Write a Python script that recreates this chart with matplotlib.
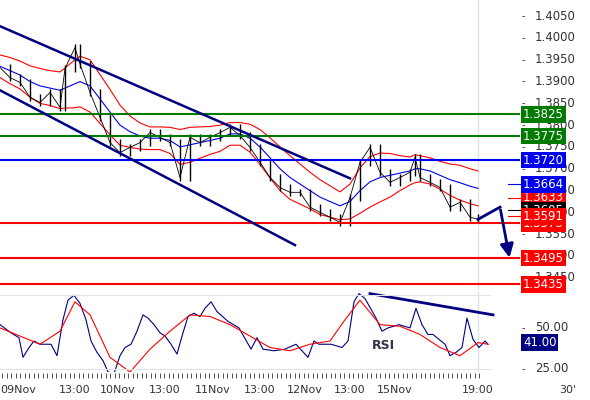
import matplotlib.pyplot as plt
import numpy as np

# price path (x in bar-pixel units, close prices)
px = [0, 10, 20, 30, 40, 50, 60, 65, 75, 80, 90, 100, 110, 120, 130, 140, 150, 160, 170, 180,
      190, 200, 210, 220, 230, 240, 250, 260, 270, 280, 290, 300, 310, 320, 330, 340, 350, 360,
      370, 380, 390, 400, 410, 415, 420, 430, 440, 450, 460, 470, 478]
close = [1.3932, 1.3909, 1.3898, 1.3864, 1.3852, 1.3875, 1.3841, 1.3930, 1.3978, 1.3940, 1.3875,
         1.3818, 1.3760, 1.3737, 1.3749, 1.3760, 1.3783, 1.3772, 1.3760, 1.3680, 1.3772, 1.3760,
         1.3772, 1.3783, 1.3795, 1.3776, 1.3749, 1.3715, 1.3680, 1.3657, 1.3646, 1.3646, 1.3612,
         1.3600, 1.3589, 1.3577, 1.3634, 1.3715, 1.3749, 1.3692, 1.3669, 1.3680, 1.3692, 1.3726,
         1.3680, 1.3669, 1.3657, 1.3612, 1.3623, 1.3589, 1.3584]
ma = [1.3935, 1.3925, 1.3915, 1.3900, 1.3890, 1.3885, 1.3880, 1.3885, 1.3895, 1.3900, 1.3890,
      1.3860, 1.3830, 1.3800, 1.3785, 1.3775, 1.3770, 1.3770, 1.3765, 1.3750, 1.3755, 1.3760,
      1.3765, 1.3770, 1.3780, 1.3780, 1.3770, 1.3750, 1.3725, 1.3700, 1.3680, 1.3665, 1.3650,
      1.3635, 1.3625, 1.3615, 1.3625, 1.3650, 1.3670, 1.3680, 1.3685, 1.3690, 1.3695, 1.3700,
      1.3700, 1.3695, 1.3685, 1.3675, 1.3668, 1.3660, 1.3655]
band = [0.0026, 0.0030, 0.0032, 0.0036, 0.0040, 0.0040, 0.0042, 0.0046, 0.0055, 0.0058, 0.0060,
        0.0056, 0.0052, 0.0046, 0.0036, 0.0030, 0.0026, 0.0026, 0.0030, 0.0040, 0.0040, 0.0036,
        0.0032, 0.0030, 0.0026, 0.0026, 0.0032, 0.0040, 0.0046, 0.0050, 0.0050, 0.0046, 0.0042,
        0.0040, 0.0036, 0.0032, 0.0040, 0.0052, 0.0058, 0.0056, 0.0050, 0.0040, 0.0032, 0.0032,
        0.0030, 0.0030, 0.0032, 0.0036, 0.0040, 0.0040, 0.0040]

levels = [1.3825, 1.3775, 1.3720, 1.3575, 1.3495, 1.3435]
level_colors = ['#007a00', '#007a00', '#0000ee', '#ff0000', '#ff0000', '#ff0000']
side_labels = [(1.3633, '#ff0000'), (1.3605, '#000000'), (1.3591, '#ff0000'), (1.3664, '#0000ee')]
price_ticks = [1.4050, 1.4000, 1.3950, 1.3900, 1.3850, 1.3800, 1.3750, 1.3700, 1.3650,
               1.3600, 1.3550, 1.3500, 1.3450]

# RSI
rsi_x = [0, 11, 19, 23, 29, 34, 40, 51, 57, 63, 68, 74, 80, 86, 91, 97, 103, 108, 114, 120, 125,
         131, 137, 143, 148, 154, 160, 165, 171, 177, 182, 188, 194, 200, 205, 211, 217, 228, 239,
         251, 257, 263, 274, 285, 296, 308, 314, 319, 331, 342, 348, 354, 359, 365, 376, 382, 388,
         399, 410, 416, 422, 428, 433, 445, 450, 456, 462, 467, 473, 479, 485, 488]
rsi = [52, 47, 44, 32, 38, 42, 40, 40, 33, 55, 67, 70, 65, 55, 42, 35, 30, 23, 22, 33, 38, 40, 48,
       58, 56, 52, 47, 45, 40, 34, 45, 57, 59, 57, 62, 66, 60, 54, 50, 37, 44, 37, 36, 37, 40, 32,
       42, 40, 40, 38, 42, 66, 71, 68, 56, 48, 50, 52, 50, 62, 52, 46, 46, 40, 33, 35, 38, 56, 43,
       38, 42, 40]
sig_x = [0, 20, 40, 60, 75, 90, 110, 130, 150, 170, 190, 210, 230, 250, 270, 290, 310, 330, 345,
         360, 380, 400, 420, 440, 460, 478, 488]
sig = [50, 45, 40, 48, 66, 58, 32, 23, 37, 48, 58, 57, 52, 45, 38, 36, 40, 42, 55, 67, 52, 51,
       46, 38, 33, 41, 40]
rsi_ticks = [50, 25]

x_ticks = [18, 75, 118, 165, 213, 260, 305, 350, 395, 478, 568]
x_labels = ['09Nov', '13:00', '10Nov', '13:00', '11Nov', '13:00', '12Nov', '13:00', '15Nov', '19:00', "30'"]

NAVY = '#000080'
fig = plt.figure(figsize=(5.9, 4), dpi=100)
ax = fig.add_axes([0, 110 / 400, 520 / 590, 290 / 400])
ax2 = fig.add_axes([0, 28 / 400, 520 / 590, 80 / 400])

for a in (ax, ax2):
    a.set_xlim(0, 520)
    for s in a.spines.values():
        s.set_visible(False)
    a.tick_params(left=False, labelleft=False, bottom=False, labelbottom=False)
    a.axvline(478, color='#dde4ea', lw=1, zorder=0)

ax.set_ylim(1.3422, 1.4087)
for y in price_ticks:
    ax.text(522, y, '-', va='center', fontsize=7, color='#333333', clip_on=False, zorder=1)
    ax.text(535, y, f'{y:.4f}', va='center', fontsize=8.5, color='#333333', clip_on=False, zorder=1)

close = np.array(close)
ma = np.array(ma)
band = np.array(band)
ax.plot(px, ma + band, color='#ff0000', lw=0.8)
ax.plot(px, ma - band, color='#ff0000', lw=0.8)
ax.plot(px, ma, color='#0000ee', lw=0.8)
# bars between consecutive closes
lo = np.minimum(close[:-1], close[1:]) - 0.0008
hi = np.maximum(close[:-1], close[1:]) + 0.0008
ax.vlines(px[1:], lo, hi, color='black', lw=1.0)
ax.plot(px, close, color='black', lw=0.6)

for lv, c in zip(levels, level_colors):
    ax.axhline(lv, color=c, lw=1.5)
    ax.text(523, lv, f'{lv:.4f}', va='center', fontsize=8.5, color='white', clip_on=False, zorder=5,
            bbox=dict(boxstyle='square,pad=0.15', fc=c, ec='none'))
for lv, c in side_labels:
    ax.plot([508, 520], [lv, lv], color=c, lw=0.8, clip_on=False)
    ax.text(523, lv, f'{lv:.4f}', va='center', fontsize=8.5, color='white', clip_on=False, zorder=5,
            bbox=dict(boxstyle='square,pad=0.15', fc=c, ec='none'))

# trend channel and forecast arrow
ax.plot([0, 350], [1.4027, 1.3678], color=NAVY, lw=1.8)
ax.plot([0, 295], [1.3880, 1.3525], color=NAVY, lw=1.8)
ax.plot([478, 500], [1.3584, 1.3612], color=NAVY, lw=2)
ax.annotate('', xy=(510, 1.3490), xytext=(500, 1.3612),
            arrowprops=dict(arrowstyle='-|>,head_width=0.4,head_length=0.8', color=NAVY, lw=2))

ax2.set_ylim(23, 72)
ax2.plot(rsi_x, rsi, color=NAVY, lw=0.8)
ax2.plot(sig_x, sig, color='#ff0000', lw=0.8)
ax2.plot([370, 493], [71, 58], color=NAVY, lw=2)
ax2.text(372, 37, 'RSI', fontsize=9, fontweight='bold', color='#333344')
for y in rsi_ticks:
    ax2.text(522, y, '-', va='center', fontsize=7, color='#333333', clip_on=False)
    ax2.text(535, y, f'{y:.2f}', va='center', fontsize=8.5, color='#333333', clip_on=False)
ax2.text(523, 41, '41.00', va='center', fontsize=8.5, color='white', clip_on=False, zorder=5,
         bbox=dict(boxstyle='square,pad=0.15', fc=NAVY, ec='none'))
ax2.axhline(25, xmax=490 / 520, color='#dde4ea', lw=0.8)
ax2.axhline(70, xmax=490 / 520, color='#dde4ea', lw=0.8)

# bottom ticks and labels
axb = fig.add_axes([0, 0, 1, 28 / 400])
axb.set_xlim(0, 590)
axb.set_ylim(0, 28)
axb.axis('off')
axb.vlines(np.arange(2, 482, 4.5), 22, 27, color='#333333', lw=0.6)
for x, t in zip(x_ticks, x_labels):
    axb.text(x, 10, t, ha='center', va='center', fontsize=8, color='#333333')

fig.savefig('out.png', dpi=100)
